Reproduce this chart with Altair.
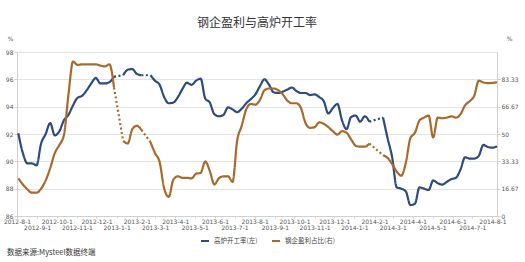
import altair as alt
import pandas as pd

title_text = "钢企盈利与高炉开工率"
source_text = "数据来源:Mysteel数据终端"
name_blast = "高炉开工率(左)"
name_profit = "钢企盈利占比(右)"

# weekly dates (Fridays)
dates = [d.strftime("%Y-%m-%dT00:00:00") for d in pd.date_range("2012-08-03", periods=106, freq="7D")]

# 高炉开工率 (%), left axis; None = missing week (bridged with a dotted line)
blast = [92.05, 90.6, 89.85, 89.85, 89.7, 91.3, 92.0, 92.8, 91.9, 92.2,
         93.0, 93.4, 94.1, 94.65, 94.8, 95.2, 95.7, 96.1, 95.7, 95.7,
         95.8, 96.2, None, 96.3, 96.7, 96.75, 96.4, 96.3, None, 96.3,
         95.9, 95.6, 94.7, 94.25, 94.3, 94.7, 95.3, 95.75, 95.6, 95.9,
         96.05, 94.6, 94.3, 93.45, 93.3, 93.4, 93.95, 93.8, 93.6, 93.85,
         94.25, 94.55, 94.9, 95.5, 96.0, 95.6, 95.05, 95.0, 95.1, 95.25,
         95.4, 95.15, 95.0, 95.0, 94.85, 94.9, 94.7, 94.4, 93.5, 93.9,
         94.2, 93.0, 92.35, 93.25, 93.35, 92.9, 93.3, 92.9, None, None,
         93.2, 91.7, 90.3, 88.1, 88.0, 87.8, 86.8, 86.9, 88.1, 88.0,
         87.9, 88.6, 88.4, 88.3, 88.5, 88.7, 88.8, 89.4, 90.3, 90.2,
         90.2, 90.4, 91.2, 91.05, 91.0, 91.1]

# 钢企盈利占比 (%), right axis
profit = [23.0, 19.2, 16.25, 14.2, 14.2, 16.7, 21.7, 29.2, 38.3, 43.3,
          49.2, 74.0, 94.2, 92.1, 92.5, 92.5, 92.5, 92.5, 91.7, 91.25,
          92.5, 78.3, None, 45.8, 44.2, 52.9, 55.0, 52.5, None, 45.0,
          38.3, 32.9, 16.7, 11.7, 22.1, 24.2, 23.3, 23.3, 22.9, 25.8,
          26.25, 33.3, 27.5, 19.2, 23.0, 24.2, 24.2, 20.8, 45.8, 55.0,
          65.0, 68.3, 67.9, 70.8, 76.7, 77.75, 77.75, 76.7, 74.2, 70.4,
          68.75, 68.75, 65.8, 56.7, 53.75, 54.2, 57.1, 56.25, 54.2, 51.7,
          49.6, 51.7, 50.8, 46.7, 42.9, 42.25, 42.25, 44.2, None, None,
          37.1, 35.4, 31.7, 27.1, 24.6, 32.5, 47.5, 50.8, 58.3, 60.0,
          61.25, 47.9, 60.0, 59.6, 60.0, 60.8, 60.0, 62.1, 67.5, 70.0,
          73.3, 82.5, 81.5, 81.0, 81.2, 81.5]

left_ticks = [86, 88, 90, 92, 94, 96, 98]
right_ticks = [0, 16.67, 33.33, 50, 66.67, 83.33]

BLUE = "#2d4b7e"
BROWN = "#a86a2c"
LABEL = "#555555"
LINEC = "#d0d0d0"


def build_rows(name, vals):
    rows = []
    seg = 0
    run = []
    last = None
    pending_gap = False
    for d, v in zip(dates, vals):
        if v is None:
            if run:
                for rd, rv in run:
                    rows.append(dict(date=rd, value=rv, name=name, seg=f"{name}-{seg}", style="solid"))
                seg += 1
                run = []
            pending_gap = True
            continue
        if pending_gap and last is not None:
            rows.append(dict(date=last[0], value=last[1], name=name, seg=f"{name}-{seg}", style="dot"))
            rows.append(dict(date=d, value=v, name=name, seg=f"{name}-{seg}", style="dot"))
            seg += 1
            pending_gap = False
        run.append((d, v))
        last = (d, v)
    if run:
        for rd, rv in run:
            rows.append(dict(date=rd, value=rv, name=name, seg=f"{name}-{seg}", style="solid"))
    return rows


df = pd.DataFrame(build_rows(name_blast, blast) + build_rows(name_profit, profit))

months = []
for y in (2012, 2013, 2014):
    for m in range(1, 13):
        if (y, m) >= (2012, 8) and (y, m) <= (2014, 8):
            months.append(alt.DateTime(year=y, month=m, date=1))

x_enc = alt.X(
    "date:T",
    title=None,
    scale=alt.Scale(domain=[alt.DateTime(year=2012, month=8, date=1),
                            alt.DateTime(year=2014, month=8, date=8)]),
    axis=alt.Axis(
        values=months,
        labelExpr="month(datum.value) % 2 == 1 ? timeFormat(datum.value, '%Y-%-m-%-d') : ['', timeFormat(datum.value, '%Y-%-m-%-d')]",
        labelOverlap=False,
        labelBound=False,
        labelFlush=False,
        labelFontSize=6,
        labelLineHeight=6.5,
        labelColor=LABEL,
        labelPadding=0,
        tickSize=2,
        tickColor=LINEC,
        domainColor=LINEC,
        grid=False,
    ),
)

color_enc = alt.Color(
    "name:N",
    scale=alt.Scale(domain=[name_blast, name_profit], range=[BLUE, BROWN]),
    legend=alt.Legend(
        orient="none", legendX=183, legendY=184, direction="horizontal",
        title=None, symbolType="stroke", symbolSize=64, symbolStrokeWidth=2,
        labelFontSize=6.5, labelFont="Noto Sans CJK SC", labelColor="#444444",
        columnPadding=10, labelOffset=4,
    ),
)

dash_enc = alt.StrokeDash(
    "style:N",
    scale=alt.Scale(domain=["solid", "dot"], range=[[1, 0], [2, 2.5]]),
    legend=None,
)

blast_line = alt.Chart(df).transform_filter(
    alt.datum.name == name_blast
).mark_line(strokeWidth=2.2, interpolate="monotone").encode(
    x=x_enc,
    y=alt.Y("value:Q", scale=alt.Scale(domain=[86, 98], nice=False, zero=False),
            axis=alt.Axis(values=left_ticks, grid=True, gridColor="#e3e3e3",
                          domainColor=LINEC, tickColor=LINEC, tickSize=3,
                          labelFontSize=6, labelColor=LABEL, labelPadding=1,
                          title="%", titleAngle=0, titleX=-7, titleY=-14,
                          titleFontSize=6, titleFontWeight="normal", titleColor=LABEL,
                          titleAlign="center", titleBaseline="middle")),
    color=color_enc,
    strokeDash=dash_enc,
    detail="seg:N",
)

profit_line = alt.Chart(df).transform_filter(
    alt.datum.name == name_profit
).mark_line(strokeWidth=2.2, interpolate="monotone").encode(
    x=x_enc,
    y=alt.Y("value:Q", scale=alt.Scale(domain=[0, 100], nice=False),
            axis=alt.Axis(orient="right", values=right_ticks, format=".2~f", grid=False,
                          domainColor=LINEC, tickColor=LINEC, tickSize=3,
                          labelFontSize=6, labelColor=LABEL, labelPadding=1,
                          title="%", titleAngle=0, titleX=12, titleY=-14,
                          titleFontSize=6, titleFontWeight="normal", titleColor=LABEL,
                          titleAlign="center", titleBaseline="middle")),
    color=color_enc,
    strokeDash=dash_enc,
    detail="seg:N",
)

src = alt.Chart(pd.DataFrame({"t": [source_text]})).mark_text(
    align="left", baseline="middle", fontSize=7.5, font="Noto Sans CJK SC", color="#333333"
).encode(text="t:N", x=alt.value(-10), y=alt.value(201))

chart = alt.layer(blast_line, profit_line, src).resolve_scale(y="independent").properties(
    width=480,
    height=164,
    padding={"left": 17, "top": 52, "right": 28, "bottom": 46},
    autosize=alt.AutoSizeParams(type="none"),
    title=alt.TitleParams(title_text, fontSize=12, font="Noto Sans CJK SC", fontWeight="normal",
                          color="#333333", anchor="middle", frame="group", offset=8,
                          baseline="bottom", dy=15),
    background="white",
).configure_view(stroke=None).configure_axis(labelFont="DejaVu Sans", titleFont="DejaVu Sans")

chart.save("out.html", embed_options={"renderer": "svg", "actions": False})
